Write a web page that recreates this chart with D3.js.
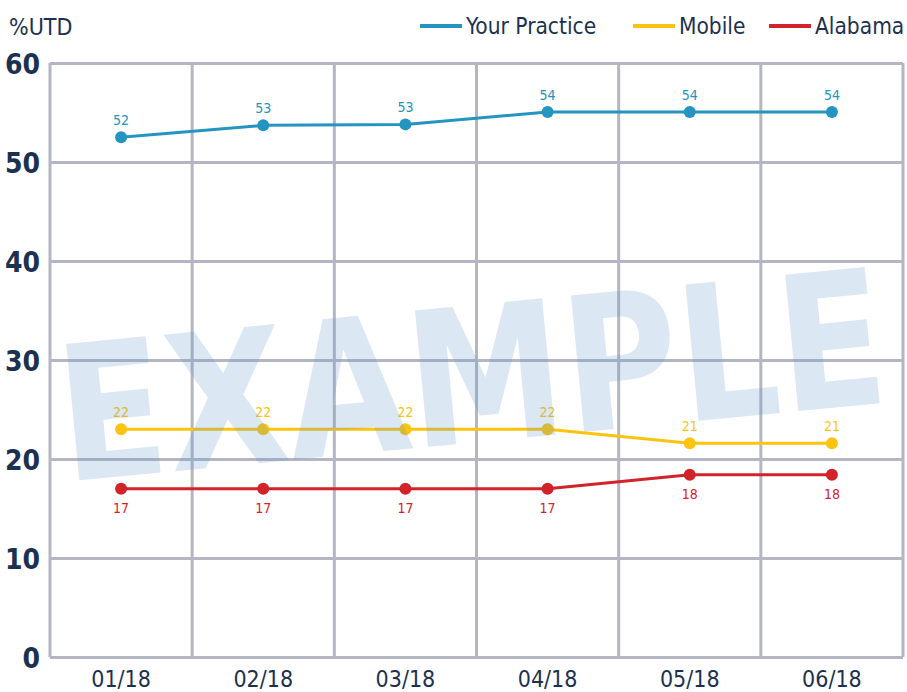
<!DOCTYPE html>
<html>
<head>
<meta charset="utf-8">
<script src="https://cdn.jsdelivr.net/npm/d3@7"></script>
<style>
  body { margin: 0; background: #fff; }
  text { font-family: "DejaVu Sans Condensed", "DejaVu Sans", sans-serif; }
</style>
</head>
<body>
<div id="chart-area"></div>
<script>
const months = ["01/18", "02/18", "03/18", "04/18", "05/18", "06/18"]
const practice = [52.5, 53.7, 53.8, 55.05, 55.05, 55.05]
const mobile = [23.0, 23.0, 23.0, 23.0, 21.6, 21.6]
const alabama = [17.0, 17.0, 17.0, 17.0, 18.4, 18.4]
const practiceLabels = [52, 53, 53, 54, 54, 54]
const mobileLabels = [22, 22, 22, 22, 21, 21]
const alabamaLabels = [17, 17, 17, 17, 18, 18]
const yTicks = [0, 10, 20, 30, 40, 50, 60]
const seriesNames = ["Your Practice", "Mobile", "Alabama"]

const W = 907, H = 692
const margin = { top: 63, right: 4, bottom: 35, left: 50 }
const width = W - margin.left - margin.right
const height = H - margin.top - margin.bottom
const gridColor = "#b4b6c3"
const navy = "#1c3150"

const series = [
  { name: seriesNames[0], values: practice, labels: practiceLabels, color: "#2494c0", above: true },
  { name: seriesNames[1], values: mobile, labels: mobileLabels, color: "#fcc40f", above: true },
  { name: seriesNames[2], values: alabama, labels: alabamaLabels, color: "#d2232a", above: false }
]

const svg = d3.select("#chart-area")
  .append("svg")
  .attr("width", W)
  .attr("height", H)

const g = svg.append("g")
  .attr("transform", `translate(${margin.left}, ${margin.top})`)

const x = d3.scaleBand().domain(months).range([0, width])
const y = d3.scaleLinear().domain([0, 60]).range([height, 0])

// horizontal grid + y labels
const yAxis = g.append("g")
  .call(d3.axisLeft(y).tickValues(yTicks).tickSize(-width).tickPadding(10))
yAxis.select(".domain").remove()
yAxis.selectAll("line").attr("stroke", gridColor).attr("stroke-width", 3)
yAxis.selectAll("text")
  .attr("fill", navy)
  .attr("font-size", "28px")
  .attr("font-weight", "bold")
  .attr("dy", "0.36em")

// vertical grid lines at band edges
const edges = months.map(m => x(m)).concat([x.range()[1]])
g.selectAll(".vgrid")
  .data(edges)
  .enter()
  .append("line")
  .attr("class", "vgrid")
  .attr("x1", d => d).attr("x2", d => d)
  .attr("y1", 0).attr("y2", height)
  .attr("stroke", gridColor)
  .attr("stroke-width", 3)

// x axis labels
const xAxis = g.append("g")
  .attr("transform", `translate(0, ${height})`)
  .call(d3.axisBottom(x).tickSize(0).tickPadding(14))
xAxis.select(".domain").remove()
xAxis.selectAll("text")
  .attr("fill", navy)
  .attr("font-size", "23px")

const cx = d => x(d) + x.bandwidth() / 2

const line = d3.line()
  .x((d, i) => cx(months[i]))
  .y(d => y(d))

series.forEach(s => {
  g.append("path")
    .datum(s.values)
    .attr("fill", "none")
    .attr("stroke", s.color)
    .attr("stroke-width", 3)
    .attr("d", line)

  g.selectAll(null)
    .data(s.values)
    .enter()
    .append("circle")
    .attr("cx", (d, i) => cx(months[i]))
    .attr("cy", d => y(d))
    .attr("r", 6)
    .attr("fill", s.color)

  g.selectAll(null)
    .data(s.values)
    .enter()
    .append("text")
    .attr("x", (d, i) => cx(months[i]))
    .attr("y", d => y(d) + (s.above ? -12 : 24))
    .attr("text-anchor", "middle")
    .attr("font-size", "14px")
    .attr("fill", s.color)
    .text((d, i) => s.labels[i])
})

// y title
svg.append("text")
  .attr("x", 9)
  .attr("y", 35)
  .attr("fill", navy)
  .attr("font-size", "23px")
  .text("%UTD")

// legend
const legendPos = [420, 633, 769]
const legend = svg.selectAll(".legend")
  .data(series)
  .enter()
  .append("g")
  .attr("class", "legend")
  .attr("transform", (d, i) => `translate(${legendPos[i]}, 26)`)
legend.append("line")
  .attr("x1", 0).attr("x2", 42)
  .attr("stroke", d => d.color)
  .attr("stroke-width", 4)
legend.append("text")
  .attr("x", 46)
  .attr("y", 8)
  .attr("fill", navy)
  .attr("font-size", "22.5px")
  .text(d => d.name)

// watermark
svg.append("text")
  .attr("transform", "translate(478, 442) rotate(-5.5)")
  .attr("text-anchor", "middle")
  .attr("font-family", "DejaVu Sans, sans-serif")
  .attr("font-weight", "bold")
  .attr("font-size", "188px")
  .attr("textLength", 830)
  .attr("lengthAdjust", "spacingAndGlyphs")
  .attr("fill", "#6496c8")
  .attr("fill-opacity", 0.23)
  .text("EXAMPLE")
</script>
</body>
</html>
